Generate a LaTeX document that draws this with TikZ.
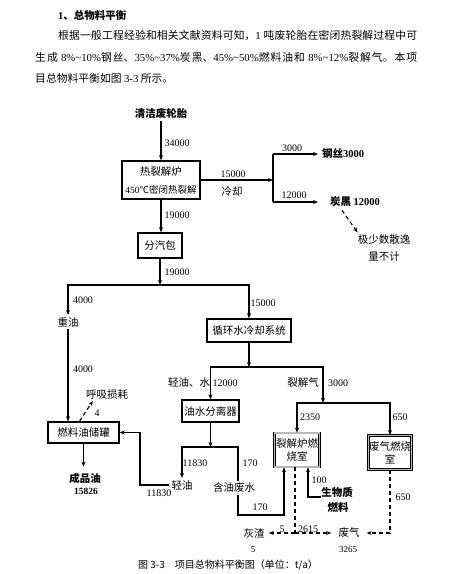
\documentclass[tikz,border=0pt]{standalone}
\usepackage{fontspec}
\setmainfont{Noto Sans CJK SC}
\newfontfamily\lat{Liberation Serif}
\usetikzlibrary{arrows.meta}
\XeTeXlinebreaklocale "zh"
\XeTeXlinebreakskip=0pt plus 1.5pt
\newcommand\fsz{\fontsize{10.5}{13}\selectfont}
\newcommand\hsz{\fontsize{10.8}{13}\selectfont}
\begin{document}
\begin{tikzpicture}[x=1pt,y=-1pt,
  box/.style={draw,line width=1.5pt,inner sep=0pt,align=center,font=\fsz},
  dbox/.style={draw,double=gray!55,double distance=1.3pt,line width=0.7pt,inner sep=0pt,align=center,font=\fontsize{10.5}{13}\selectfont},
  conn/.style={line width=1.2pt},
  arr/.style={-{Stealth[length=5pt,width=4pt]}},
  dsh/.style={line width=1.1pt,dash pattern=on 4pt off 3pt},
  num/.style={inner sep=0pt,font=\lat\fontsize{10}{11}\selectfont},
  lab/.style={inner sep=0pt,font=\fsz},
  bl/.style={inner sep=0pt,font=\fsz\bfseries},
  para/.style={anchor=west,inner sep=0pt,font=\hsz,align=justify}]
\fill[white] (0,0) rectangle (475,574);
\useasboundingbox (0,0) rectangle (475,574);

% heading and paragraph
\node[anchor=west,bl] (head) at (58,15) {{\lat 1}、总物料平衡};
\node[para,text width=359pt] (p1) at (58,35) {\parfillskip=0pt\relax 根据一般工程经验和相关文献资料可知，{\lat 1 }吨废轮胎在密闭热裂解过程中可\par};
\node[para,text width=382pt] (p2) at (35,57) {\parfillskip=0pt\relax 生成 {\lat 8\%\textasciitilde 10\%}钢丝、{\lat 35\%\textasciitilde 37\%}炭黑、{\lat 45\%\textasciitilde 50\%}燃料油和 {\lat 8\%\textasciitilde 12\%}裂解气。本项\par};
\node[anchor=west,inner sep=0pt,font=\hsz] (p3) at (35,78) {目总物料平衡如图 {\lat 3-3} 所示。};

% nodes
\node[bl] (tire) at (161,113) {清洁废轮胎};
\node[box,minimum width=78,minimum height=38] (furnace) at (161,180) {热裂解炉\\[5pt]{\fontsize{9.5}{11}\selectfont{\lat 450}℃密闭热裂解}};
\node[box,minimum width=44,minimum height=25] (fqb) at (160,245.5) {分汽包};
\node[lab,inner sep=2pt] (zy) at (68,322) {重油};
\node[box,minimum width=84,minimum height=23] (xh) at (249,330.5) {循环水冷却系统};
\node[box,minimum width=57,minimum height=22] (ys) at (210.5,411) {油水分离器};
\node[box,minimum width=71,minimum height=21] (cg) at (83.5,432.5) {燃料油储罐};
\node[dbox,minimum width=45,minimum height=34] (lj) at (297,450) {裂解炉燃\\烧室};
\node[dbox,minimum width=43,minimum height=34] (fq) at (390,452.5) {废气燃烧\\室};

\node[bl,anchor=west] (gs) at (322,154) {钢丝{\lat 3000}};
\node[bl,anchor=west] (tb) at (330,202) {炭黑 {\lat 12000}};
\node[lab,align=center,font=\fontsize{10.5}{17}\selectfont] (sy) at (384,248) {极少数散逸\\量不计};
\node[lab,inner sep=2pt] (qy) at (182,485) {轻油};
\node[lab,inner sep=2pt] (hy) at (234,488) {含油废水};
\node[bl] (cp) at (85,478) {成品油};
\node[num,font=\lat\bfseries\fontsize{9.5}{11}\selectfont] (cpn) at (86,491) {15826};
\node[lab] (hx) at (107,395) {呼吸损耗};
\node[bl] (sw1) at (337,492) {生物质};
\node[bl] (sw2) at (338,507) {燃料};
\node[lab,inner xsep=4pt] (hz) at (254,533) {灰渣};
\node[lab,inner xsep=7pt] (fg) at (349,533) {废气};
\node[num,font=\lat\fontsize{9}{10}\selectfont] (hzn) at (253,550) {5};
\node[num,font=\lat\fontsize{9}{10}\selectfont] (fgn) at (348,550) {3265};

% coordinates
\coordinate (j1) at (273,180);
\coordinate (j1t) at (273,154);
\coordinate (j1b) at (273,202);
\coordinate (j2) at (160,285);
\coordinate (j3) at (249,367);
\coordinate (j4) at (323,403);
\coordinate (j5) at (210.5,447);
\coordinate (j6) at (238,515);
\coordinate (j7) at (140,460);
\coordinate (j8) at (295,533);

% connectors
\draw[conn,arr] ([yshift=-3pt]tire.south) -- (tire.south |- furnace.north);
\draw[conn,arr] (furnace.east) -- (j1);
\draw[conn] (j1t) -- (j1b);
\draw[conn,arr] (j1t) -- ([xshift=-4pt]gs.west);
\draw[conn,arr] (j1b) -- ([xshift=-12pt]tb.west);
\draw[dsh,arr] ([xshift=12pt,yshift=-3pt]tb.south west) -- ([yshift=2pt]sy.north west);
\draw[conn,arr] (furnace.south) -- (furnace.south |- fqb.north);
\draw[conn,arr] (fqb.south) -- (j2);
\draw[conn,arr] (j2) -| (zy.north);
\draw[conn,arr] (j2) -| (xh.north);
\draw[conn,arr] (zy.south) -- (zy.south |- cg.north);
\draw[conn,arr] (xh.south) -- (j3);
\draw[conn,arr] (j3) -| (ys.north);
\draw[conn,arr] (j3) -| (j4);
\draw[conn,arr] (j4) -| (lj.north);
\draw[conn,arr] (j4) -| (fq.north);
\draw[conn,arr] (ys.south) -- (j5);
\draw[conn,arr] (j5) -| (qy.north);
\draw[conn] (j5) -| ([xshift=4pt]hy.north);
\draw[conn,arr] ([xshift=4pt]hy.south) -- (j6) -| ([xshift=-13pt]lj.south);
\draw[conn,arr] (qy.west) -| (j7) |- (cg.east);
\draw[conn,arr] ([yshift=-5pt]sw1.west) -| ([xshift=11pt]lj.south);
\draw[conn,arr] (cg.south) -- ([yshift=6pt]cg.south |- cp.north);
\draw[dsh,arr] ([xshift=-4pt]cg.north) -- ([xshift=7pt,yshift=-1pt]hx.south west);
\draw[dsh] ([xshift=-2pt]lj.south) -- (j8);
\draw[dsh,arr] (j8) -- (hz.east);
\draw[dsh,arr] (j8) -- (fg.west);
\draw[dsh,arr] (fq.south) |- (fg.east);

% labels
\node[num] at (177,143) {34000};
\node[num] at (233,174) {15000};
\node[lab] at (232,192) {冷却};
\node[num] at (292,148) {3000};
\node[num] at (294,195) {12000};
\node[num] at (177,215) {19000};
\node[num] at (177,272) {19000};
\node[num] at (83,300) {4000};
\node[num] at (263,303) {15000};
\node[num] at (83,369) {4000};
\node[lab] at (189,383) {轻油、水};
\node[num] at (225,383) {12000};
\node[lab] at (303,383) {裂解气};
\node[num] at (338,383) {3000};
\node[num] at (310,417) {2350};
\node[num] at (400,417) {650};
\node[num] at (195,463) {11830};
\node[num] at (250,463) {170};
\node[num] at (319,480) {100};
\node[num] at (260,507) {170};
\node[num] at (159,493) {11830};
\node[num] at (97,413) {4};
\node[num] at (403,497) {650};
\node[num] at (282,529) {5};
\node[num] at (308,529) {2615};

\node[lab,font=\fontsize{10}{12}\selectfont] (cap) at (228,565) {图 3-3\hspace{1em}项目总物料平衡图（单位：t/a）};
\end{tikzpicture}
\end{document}
